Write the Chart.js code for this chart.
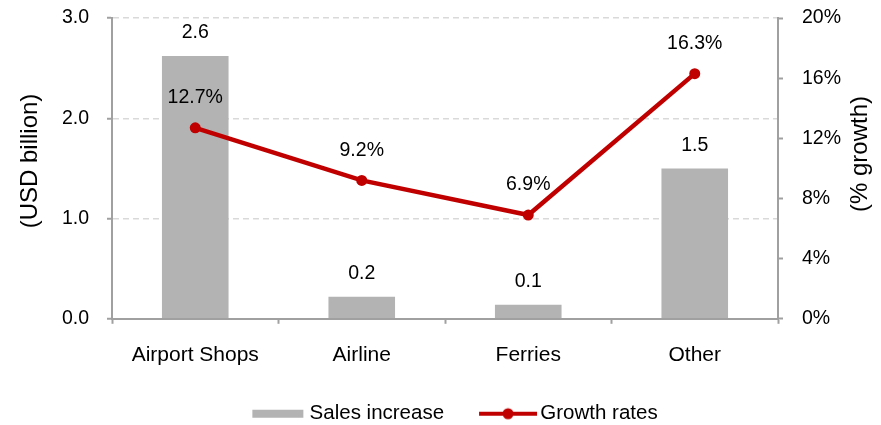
<!DOCTYPE html>
<html>
<head>
<meta charset="utf-8">
<script src="https://cdn.jsdelivr.net/npm/chart.js@4/dist/chart.umd.min.js"></script>
<style>
  html, body { margin: 0; padding: 0; background: #fff; }
  #wrap { width: 881px; height: 425px; }
</style>
</head>
<body>
<div id="wrap"><canvas id="myChart" width="881" height="425"></canvas></div>
<script>
const categories = ["Airport Shops", "Airline", "Ferries", "Other"];
const salesIncrease = [2.62, 0.22, 0.14, 1.5];   // USD billion
const growthRates = [12.7, 9.2, 6.9, 16.3];      // % growth
const leftTicks = [0, 1, 2, 3];
const rightTicks = [0, 4, 8, 12, 16, 20];

const FONT = "'Liberation Sans', Arial, sans-serif";
const AXIS = "#a0a0a0";
const BAR = "#b3b3b3";
const RED = "#c00000";

// legend swatches drawn as images so the bar gets a flat strip and the line a dot
function swatch(w, h, draw) {
  const c = document.createElement("canvas");
  c.width = w;
  c.height = h;
  draw(c.getContext("2d"));
  return c;
}
const barSwatch = swatch(88, 12, (g) => {
  g.fillStyle = BAR;
  g.fillRect(35, 2, 51, 8);
});
const lineSwatch = swatch(104, 14, (g) => {
  g.strokeStyle = RED;
  g.lineWidth = 4;
  g.beginPath();
  g.moveTo(39, 7);
  g.lineTo(97, 7);
  g.stroke();
  g.fillStyle = RED;
  g.beginPath();
  g.arc(68, 7, 5.5, 0, Math.PI * 2);
  g.fill();
});

const valueLabels = {
  id: "valueLabels",
  afterDatasetsDraw(chart) {
    const ctx = chart.ctx;
    ctx.save();
    ctx.font = "19.5px " + FONT;
    ctx.fillStyle = "#000";
    ctx.textAlign = "center";
    ctx.textBaseline = "middle";
    chart.data.datasets.forEach((ds, i) => {
      const meta = chart.getDatasetMeta(i);
      meta.data.forEach((el, j) => {
        if (ds.type === "line") {
          ctx.fillText(ds.data[j].toFixed(1) + "%", el.x, el.y - 30);
        } else {
          ctx.fillText(ds.data[j].toFixed(1), el.x, el.y - 23);
        }
      });
    });
    ctx.restore();
  }
};

function rotatedText(ctx, text, x, y) {
  ctx.save();
  ctx.font = "24px " + FONT;
  ctx.fillStyle = "#000";
  ctx.textAlign = "center";
  ctx.textBaseline = "middle";
  ctx.translate(x, y);
  ctx.rotate(-Math.PI / 2);
  ctx.fillText(text, 0, 0);
  ctx.restore();
}

const axisTitles = {
  id: "axisTitles",
  afterDraw(chart) {
    rotatedText(chart.ctx, "(USD billion)", 30, 161);
    rotatedText(chart.ctx, "(% growth)", 860, 154);
  }
};

// y axes: fixed width, and no extra label padding above/below the plot
function fixVertical(width) {
  return (s) => {
    s.width = width;
    s.paddingTop = 0;
    s.paddingBottom = 0;
  };
}

const ctx = document.getElementById("myChart").getContext("2d");
const myChart = new Chart(ctx, {
  type: "bar",
  data: {
    labels: categories,
    datasets: [
      {
        type: "bar",
        label: "Sales increase",
        data: salesIncrease,
        backgroundColor: BAR,
        barPercentage: 0.4,
        categoryPercentage: 1,
        yAxisID: "y",
        order: 1,
      },
      {
        type: "line",
        label: "Growth rates",
        data: growthRates,
        borderColor: RED,
        backgroundColor: RED,
        borderWidth: 4.5,
        pointRadius: 5.5,
        pointBackgroundColor: RED,
        pointBorderWidth: 0,
        tension: 0,
        yAxisID: "y1",
        order: 0,
      },
    ],
  },
  options: {
    responsive: false,
    animation: false,
    layout: { padding: { top: 18, left: 0, right: 0, bottom: -9 } },
    scales: {
      x: {
        offset: true,
        afterFit: (s) => { s.height += 6.5; },
        grid: {
          offset: true,
          drawOnChartArea: false,
          tickLength: 5,
          tickColor: AXIS,
          tickWidth: 2,
        },
        border: { color: AXIS, width: 2 },
        ticks: { color: "#000", font: { family: FONT, size: 21 }, padding: 19 },
      },
      y: {
        position: "left",
        min: 0,
        max: 3,
        afterBuildTicks: (s) => { s.ticks = leftTicks.map((v) => ({ value: v })); },
        afterFit: fixVertical(112),
        grid: {
          color: (c) => (c.tick && c.tick.value === 0 ? "rgba(0,0,0,0)" : "#d9d9d9"),
          lineWidth: 1.5,
          tickLength: 5,
          tickColor: AXIS,
          tickWidth: 2,
        },
        border: { color: AXIS, width: 2, dash: [6, 4] },
        ticks: {
          color: "#000",
          font: { family: FONT, size: 19.5 },
          padding: 18,
          callback: (v) => v.toFixed(1),
        },
      },
      y1: {
        position: "right",
        min: 0,
        max: 20,
        afterBuildTicks: (s) => { s.ticks = rightTicks.map((v) => ({ value: v })); },
        afterFit: fixVertical(103),
        grid: {
          drawOnChartArea: false,
          tickLength: 5,
          tickColor: AXIS,
          tickWidth: 2,
        },
        border: { color: AXIS, width: 2 },
        ticks: {
          color: "#000",
          font: { family: FONT, size: 19.5 },
          padding: 19,
          callback: (v) => v + "%",
        },
      },
    },
    plugins: {
      tooltip: { enabled: false },
      legend: {
        position: "bottom",
        labels: {
          usePointStyle: true,
          pointStyleWidth: 76,
          padding: 10,
          color: "#000",
          font: { family: FONT, size: 20.5 },
          generateLabels(chart) {
            const items = Chart.defaults.plugins.legend.labels.generateLabels(chart);
            items.sort((a, b) => a.datasetIndex - b.datasetIndex);
            items.forEach((it) => { it.pointStyle = it.datasetIndex === 0 ? barSwatch : lineSwatch; });
            return items;
          },
        },
      },
    },
  },
  plugins: [valueLabels, axisTitles],
});
</script>
</body>
</html>
